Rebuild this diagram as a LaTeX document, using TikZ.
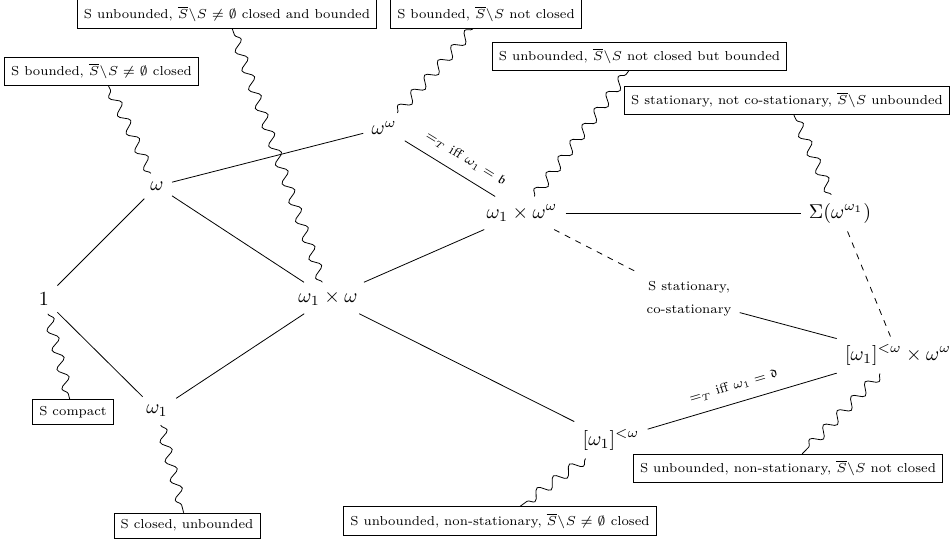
\RequirePackage{fix-cm}
\documentclass[tikz,border=0pt]{standalone}
\usepackage{amssymb}
\usetikzlibrary{decorations.pathmorphing}
\newcommand{\smallfnt}{\fontsize{6.5}{7.8}\selectfont}
\begin{document}
\begin{tikzpicture}[x=0.5pt,y=-0.5pt,
  pt/.style={inner sep=4pt},
  lbl/.style={draw, font=\smallfnt, inner sep=3.3pt},
  wavy/.style={decorate, decoration={snake, amplitude=2.5pt, segment length=10pt}},
  elab/.style={font=\smallfnt, sloped, above=2pt}]
\useasboundingbox (0,0) rectangle (951,542);
% main nodes
\node[pt] (n1) at (44,299) {$1$};
\node[pt] (nw) at (157,186) {$\omega$};
\node[pt] (nww) at (384,128) {$\omega^\omega$};
\node[pt] (nw1w) at (328,298) {$\omega_1\times\omega$};
\node[pt] (nw1) at (157,411) {$\omega_1$};
\node[pt] (nw1ww) at (522,213) {$\omega_1\times\omega^\omega$};
\node[pt] (nsig) at (840,213) {$\Sigma(\omega^{\omega_1})$};
\node[pt, font=\smallfnt, align=center] (nstat) at (689,299) {S stationary,\\[3.5pt]co-stationary};
\node[pt] (nfinw) at (898,355) {$[\omega_1]^{<\omega}\times\omega^\omega$};
\node[pt] (nfin) at (611,440) {$[\omega_1]^{<\omega}$};
% boxes
\node[lbl] (b1) at (101.5,71.5) {S bounded, $\overline{S}\backslash S\neq\emptyset$ closed};
\node[lbl] (b2) at (227,14) {S unbounded, $\overline{S}\backslash S\neq\emptyset$ closed and bounded};
\node[lbl] (b3) at (486,14) {S bounded, $\overline{S}\backslash S$ not closed};
\node[lbl] (b4) at (639.5,56.5) {S unbounded, $\overline{S}\backslash S$ not closed but bounded};
\node[lbl] (b5) at (787,100.5) {S stationary, not co-stationary, $\overline{S}\backslash S$ unbounded};
\node[lbl] (b6) at (73,412) {S compact};
\node[lbl] (b7) at (187,525.5) {S closed, unbounded};
\node[lbl] (b8) at (500,521) {S unbounded, non-stationary, $\overline{S}\backslash S\neq\emptyset$ closed};
\node[lbl] (b9) at (788,468.5) {S unbounded, non-stationary, $\overline{S}\backslash S$ not closed};
% edges
\draw (n1) -- (nw);
\draw (n1) -- (nw1);
\draw (nw) -- (nww);
\draw (nw) -- (nw1w);
\draw (nw1) -- (nw1w);
\draw (nw1w) -- (nw1ww);
\draw (nw1w) -- (nfin);
\draw (nww) -- node[elab, pos=0.58] {$=_T$ iff $\omega_1=\mathfrak{b}$} (nw1ww);
\draw (nw1ww) -- (nsig);
\draw[dashed] (nw1ww) -- (nstat);
\draw (nstat) -- (nfinw);
\draw[dashed] (nsig) -- (nfinw);
\draw (nfin) -- node[elab, pos=0.48] {$=_T$ iff $\omega_1=\mathfrak{d}$} (nfinw);
% wavy connectors
\draw[wavy] (n1) -- (b6);
\draw[wavy] (nw1) -- (b7);
\draw[wavy] (nw) -- (b1);
\draw[wavy] (nw1w) -- (b2);
\draw[wavy] (nww) -- (b3);
\draw[wavy] (nw1ww) -- (b4);
\draw[wavy] (nsig) -- (b5);
\draw[wavy] (nfinw) -- (b9);
\draw[wavy] (nfin) -- (b8);
\end{tikzpicture}
\end{document}
